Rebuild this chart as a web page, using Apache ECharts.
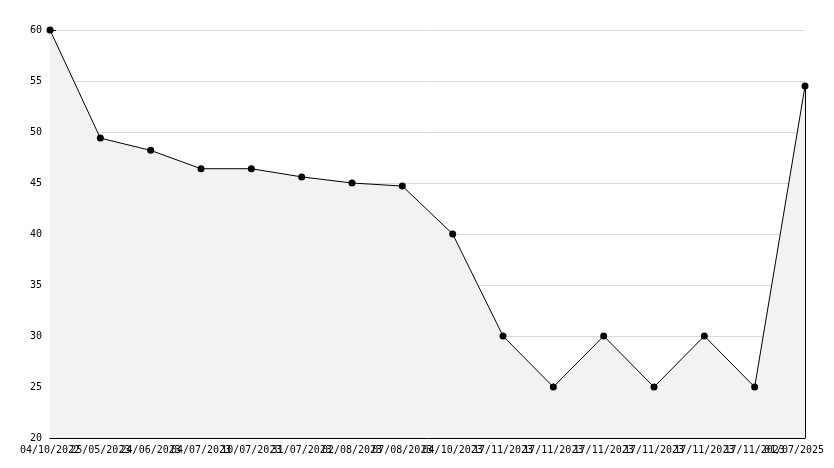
<!DOCTYPE html>
<html>
<head>
<meta charset="utf-8">
<script src="https://cdn.jsdelivr.net/npm/echarts@6/dist/echarts.min.js"></script>
<style>html,body{margin:0;padding:0;background:#fff}#c{width:834px;height:468px}</style>
</head>
<body>
<div id="c"></div>
<script>
const categories = ['04/10/2022','25/05/2023','24/06/2023','04/07/2023','10/07/2023','31/07/2023','02/08/2023','07/08/2023','04/10/2023','17/11/2023','17/11/2023','17/11/2023','17/11/2023','17/11/2023','17/11/2023','01/07/2025'];
const values = [60, 49.4, 48.2, 46.4, 46.4, 45.6, 45.0, 44.7, 40.0, 30, 25, 30, 25, 30, 25, 54.5];
const yTicks = [20, 25, 30, 35, 40, 45, 50, 55, 60];

const font = '"DejaVu Sans Mono", monospace';
const chart = echarts.init(document.getElementById('c'), null, {renderer: 'canvas'});
const lastIdx = categories.length - 1;
chart.setOption({
  animation: false,
  backgroundColor: '#ffffff',
  grid: {left: 50, right: 29, top: 30, bottom: 30, containLabel: false, outerBoundsMode: 'none'},
  xAxis: {
    type: 'category',
    data: categories.map((c, i) => i),
    boundaryGap: false,
    axisLine: {lineStyle: {color: '#000', width: 1}},
    axisTick: {inside: true, length: 5, lineStyle: {color: '#000'}, interval: 0},
    axisLabel: {
      interval: 0, hideOverlap: false, color: '#000', fontFamily: font, fontSize: 10, margin: 7,
      formatter: (v, i) => i === lastIdx ? '{last|' + categories[i] + '}' : categories[i],
      rich: {last: {color: '#000', fontFamily: font, fontSize: 10, padding: [0, 22, 0, 0]}}
    },
    splitLine: {show: false}
  },
  yAxis: {
    type: 'value',
    min: yTicks[0], max: yTicks[yTicks.length - 1], interval: 5,
    axisLine: {show: true, lineStyle: {color: '#000', width: 1}},
    axisTick: {show: true, inside: true, length: 6, lineStyle: {color: '#000'}},
    minorTick: {show: true, splitNumber: 5, length: 4, lineStyle: {color: '#000'}},
    axisLabel: {color: '#000', fontFamily: font, fontSize: 10, margin: 8},
    splitLine: {show: true, lineStyle: {color: '#d9d9d9', width: 1}}
  },
  series: [{
    type: 'line',
    data: values,
    symbol: 'circle',
    symbolSize: 7,
    itemStyle: {color: '#000'},
    lineStyle: {color: '#000', width: 1},
    areaStyle: {color: '#f2f2f2', opacity: 1},
    markLine: {
      silent: true, symbol: 'none', label: {show: false},
      lineStyle: {color: '#000', width: 1, type: 'solid'},
      data: [[{coord: [lastIdx, yTicks[0]]}, {coord: [lastIdx, values[lastIdx]]}]]
    }
  }]
});
</script>
</body>
</html>
